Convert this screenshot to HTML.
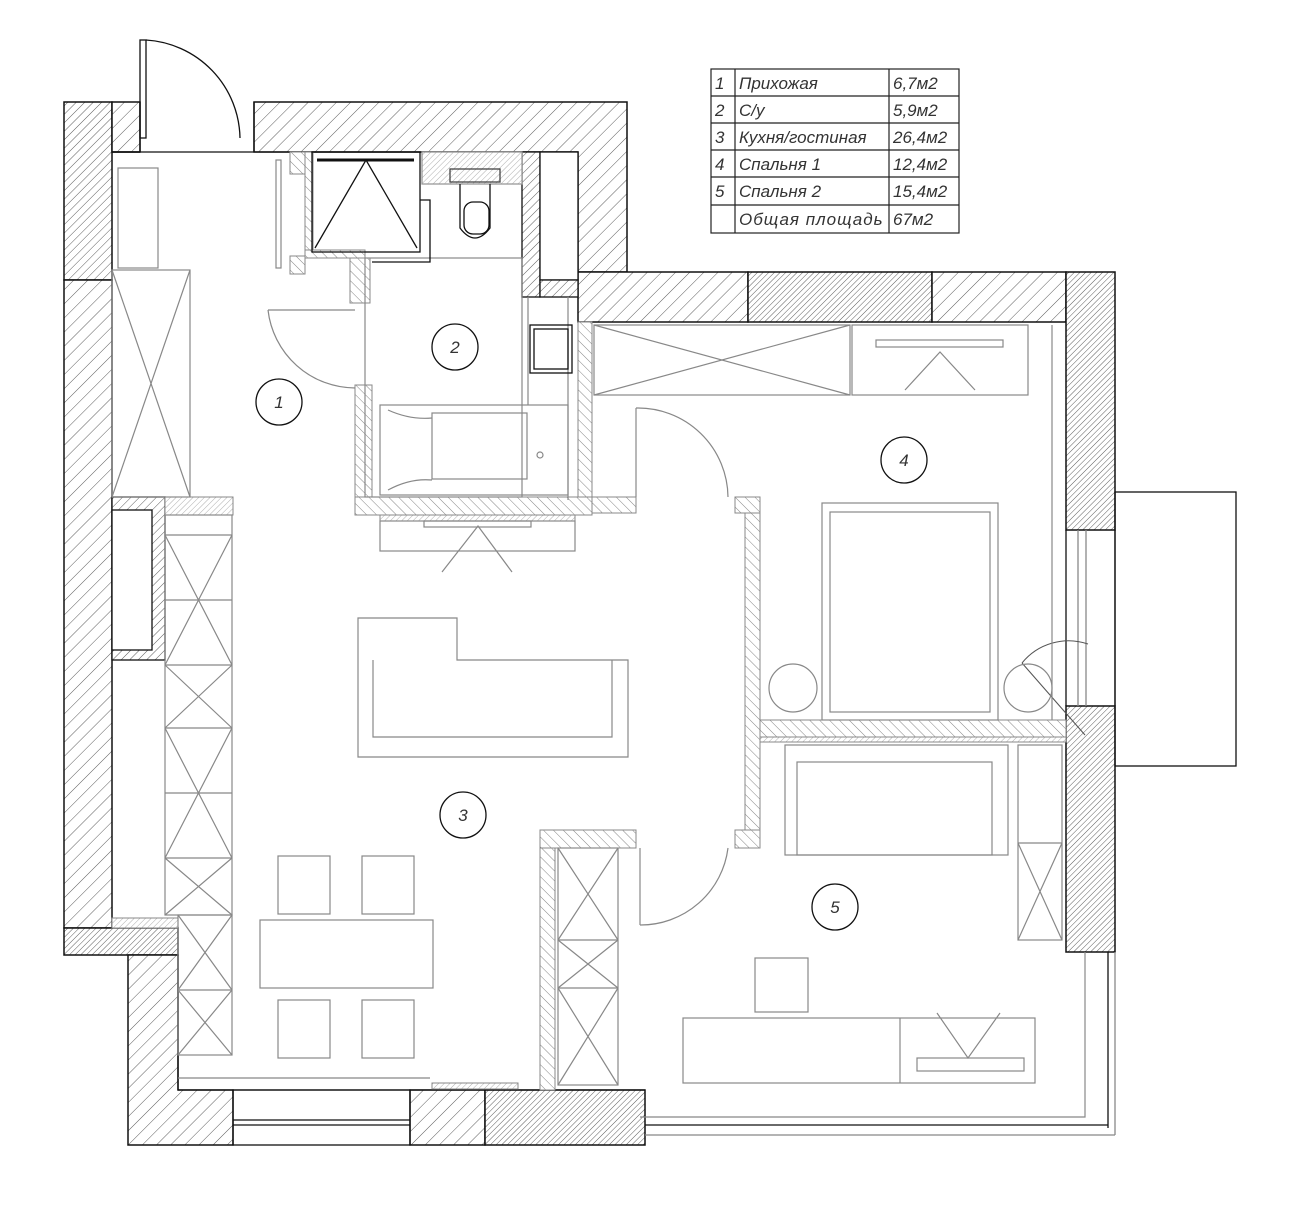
<!DOCTYPE html>
<html><head><meta charset="utf-8"><style>
html,body{margin:0;padding:0;background:#fff}
svg{display:block}
text{font-family:"Liberation Sans","DejaVu Sans",sans-serif;font-style:italic;fill:#333}
</style></head><body>
<svg width="1291" height="1219" viewBox="0 0 1291 1219" xmlns="http://www.w3.org/2000/svg">
<defs>
<pattern id="h" width="10" height="10" patternUnits="userSpaceOnUse" patternTransform="rotate(45)"><rect width="10" height="10" fill="#fff"/><line x1="0" y1="0" x2="0" y2="10" stroke="#333" stroke-width="0.8"/></pattern>
<pattern id="hd" width="4" height="4" patternUnits="userSpaceOnUse" patternTransform="rotate(45)"><rect width="4" height="4" fill="#fff"/><line x1="0" y1="0" x2="0" y2="4" stroke="#333" stroke-width="0.8"/></pattern>
<pattern id="hm" width="6" height="6" patternUnits="userSpaceOnUse" patternTransform="rotate(45)"><rect width="6" height="6" fill="#fff"/><line x1="0" y1="0" x2="0" y2="6" stroke="#333" stroke-width="0.8"/></pattern>
<pattern id="hp" width="7" height="7" patternUnits="userSpaceOnUse" patternTransform="rotate(-45)"><rect width="7" height="7" fill="#fff"/><line x1="0" y1="0" x2="0" y2="7" stroke="#777" stroke-width="0.9"/></pattern>
<pattern id="hs" width="4" height="4" patternUnits="userSpaceOnUse" patternTransform="rotate(45)"><rect width="4" height="4" fill="#fff"/><line x1="0" y1="0" x2="0" y2="4" stroke="#999" stroke-width="0.8"/></pattern>
</defs>

<g stroke="#222" stroke-width="1.2" fill="none">
<rect x="711" y="69" width="248" height="164"/>
<line x1="711" y1="96" x2="959" y2="96"/><line x1="711" y1="123" x2="959" y2="123"/>
<line x1="711" y1="150" x2="959" y2="150"/><line x1="711" y1="177" x2="959" y2="177"/>
<line x1="711" y1="205" x2="959" y2="205"/>
<line x1="735" y1="69" x2="735" y2="233"/><line x1="889" y1="69" x2="889" y2="233"/>
</g>
<g font-size="17">
<text x="715" y="89">1</text><text x="739" y="89">Прихожая</text><text x="893" y="89">6,7м2</text>
<text x="715" y="116">2</text><text x="739" y="116">С/у</text><text x="893" y="116">5,9м2</text>
<text x="715" y="143">3</text><text x="739" y="143">Кухня/гостиная</text><text x="893" y="143">26,4м2</text>
<text x="715" y="170">4</text><text x="739" y="170">Спальня 1</text><text x="893" y="170">12,4м2</text>
<text x="715" y="197">5</text><text x="739" y="197">Спальня 2</text><text x="893" y="197">15,4м2</text>
<text x="739" y="225" letter-spacing="1">Общая  площадь</text><text x="893" y="225">67м2</text>
</g>

<g stroke="#111" stroke-width="1.5">
<rect x="64" y="102" width="48" height="178" fill="url(#hm)"/>
<rect x="64" y="280" width="48" height="648" fill="url(#h)"/>
<rect x="112" y="102" width="28" height="50" fill="url(#h)"/>
<polygon points="254,102 627,102 627,272 578,272 578,152 254,152" fill="url(#h)"/>
<rect x="578" y="272" width="170" height="50" fill="url(#h)"/>
<rect x="748" y="272" width="184" height="50" fill="url(#hd)"/>
<rect x="932" y="272" width="134" height="50" fill="url(#h)"/>
<rect x="1066" y="272" width="49" height="258" fill="url(#hd)"/>
<rect x="1066" y="706" width="49" height="246" fill="url(#hd)"/>
<rect x="64" y="928" width="114" height="27" fill="url(#hd)"/>
<polygon points="128,955 178,955 178,1090 233,1090 233,1145 128,1145" fill="url(#h)"/>
<rect x="410" y="1090" width="75" height="55" fill="url(#h)"/>
<rect x="485" y="1090" width="160" height="55" fill="url(#hd)"/>
<line x1="112" y1="152" x2="140" y2="152"/>
</g>
<g stroke="#111" stroke-width="1.3" fill="none">
<line x1="140" y1="102" x2="140" y2="152"/><line x1="254" y1="102" x2="254" y2="152"/>
<line x1="112" y1="152" x2="578" y2="152"/>
<rect x="140" y="40" width="6" height="98"/>
<path d="M146,40 A100,100 0 0 1 240,138"/>
<rect x="233" y="1090" width="177" height="55"/>
<line x1="233" y1="1120" x2="410" y2="1120"/><line x1="233" y1="1125" x2="410" y2="1125"/>
<line x1="1066" y1="530" x2="1066" y2="706"/><line x1="1115" y1="530" x2="1115" y2="706"/>
<line x1="1078" y1="530" x2="1078" y2="706" stroke="#888"/><line x1="1086" y1="530" x2="1086" y2="706" stroke="#888"/>
<rect x="1115" y="492" width="121" height="274"/>
<line x1="1108" y1="952" x2="1108" y2="1128"/><line x1="1115" y1="952" x2="1115" y2="1135" stroke="#888"/>
<line x1="645" y1="1125" x2="1108" y2="1125"/><line x1="645" y1="1135" x2="1115" y2="1135" stroke="#888"/>
<line x1="178" y1="955" x2="178" y2="1090"/>
<line x1="178" y1="1090" x2="645" y2="1090"/>
</g>
<g stroke="#555" fill="none" stroke-width="1">
<path d="M1088,644 A60,60 0 0 0 1022,663"/>
<line x1="1022" y1="663" x2="1085" y2="735"/>
</g>

<g stroke="#111" stroke-width="1.3">
<rect x="522" y="152" width="18" height="145" fill="url(#hm)"/>
<rect x="540" y="152" width="38" height="128" fill="#fff"/>
<rect x="540" y="280" width="38" height="17" fill="url(#hm)"/>
<rect x="422" y="152" width="100" height="32" fill="url(#hs)" stroke="#999"/>
<rect x="112" y="497" width="53" height="163" fill="url(#hm)"/>
<rect x="112" y="510" width="40" height="140" fill="#fff"/>
</g>

<g stroke="#888" stroke-width="1" fill="url(#hp)">
<rect x="290" y="152" width="15" height="22"/>
<rect x="290" y="256" width="15" height="18"/>
<rect x="305" y="152" width="8" height="105"/>
<rect x="305" y="250" width="60" height="8"/>
<rect x="350" y="258" width="20" height="45"/>
<rect x="355" y="385" width="17" height="130"/>
<rect x="355" y="497" width="237" height="18"/>
<rect x="578" y="322" width="14" height="175"/>
<rect x="592" y="497" width="44" height="16"/>
<rect x="735" y="497" width="25" height="16"/>
<rect x="745" y="513" width="15" height="327"/>
<rect x="760" y="720" width="306" height="17"/>
<rect x="540" y="830" width="96" height="18"/>
<rect x="735" y="830" width="25" height="18"/>
<rect x="540" y="848" width="15" height="242"/>
<rect x="112" y="918" width="66" height="10" fill="url(#hs)"/>
<rect x="165" y="497" width="68" height="18" fill="url(#hs)"/>
<rect x="380" y="515" width="195" height="6" fill="url(#hs)"/>
<rect x="432" y="1083" width="86" height="6" fill="url(#hs)"/>
<rect x="760" y="737" width="306" height="5" fill="url(#hs)"/>
</g>

<g stroke="#888" stroke-width="1.2" fill="none">
<rect x="118" y="168" width="40" height="100"/>
<rect x="112" y="270" width="78" height="227"/>
<line x1="112" y1="270" x2="190" y2="497"/><line x1="190" y1="270" x2="112" y2="497"/>
<rect x="276" y="160" width="5" height="108"/>
<path d="M268,310 L355,310 M268,310 A88,88 0 0 0 355,388"/>
<rect x="165" y="515" width="67" height="400"/>
<line x1="165" y1="535" x2="232" y2="535"/>
<line x1="165" y1="600" x2="232" y2="600"/><line x1="165" y1="665" x2="232" y2="665"/>
<line x1="165" y1="728" x2="232" y2="728"/><line x1="165" y1="793" x2="232" y2="793"/>
<line x1="165" y1="858" x2="232" y2="858"/>
<path d="M165,535 L232,665 M232,535 L165,665 M165,665 L232,728 M232,665 L165,728 M165,728 L232,858 M232,728 L165,858 M165,858 L232,915 M232,858 L165,915"/>
<rect x="178" y="915" width="54" height="140"/>
<line x1="178" y1="990" x2="232" y2="990"/>
<path d="M178,915 L232,990 M232,915 L178,990 M178,990 L232,1055 M232,990 L178,1055"/>
<line x1="178" y1="1078" x2="430" y2="1078"/>
<polygon points="358,618 457,618 457,660 628,660 628,757 358,757"/>
<polyline points="373,660 373,737 612,737 612,660"/>
<rect x="380" y="521" width="195" height="30"/>
<rect x="424" y="521" width="107" height="6"/>
<path d="M442,572 L478,526 L512,572"/>
<rect x="260" y="920" width="173" height="68"/>
<rect x="278" y="856" width="52" height="58"/><rect x="362" y="856" width="52" height="58"/>
<rect x="278" y="1000" width="52" height="58"/><rect x="362" y="1000" width="52" height="58"/>
<rect x="365" y="258" width="157" height="239"/>
<rect x="380" y="405" width="188" height="90"/>
<rect x="432" y="413" width="95" height="66"/>
<path d="M388,410 Q410,420 432,418 M388,490 Q410,478 432,480"/>
<circle cx="540" cy="455" r="3"/>
<line x1="528" y1="297" x2="528" y2="405"/>
<line x1="568" y1="297" x2="568" y2="500"/>
<rect x="594" y="325" width="256" height="70"/>
<line x1="594" y1="325" x2="850" y2="395"/><line x1="594" y1="395" x2="850" y2="325"/>
<rect x="852" y="325" width="176" height="70"/>
<rect x="876" y="340" width="127" height="7"/>
<path d="M905,390 L940,352 L975,390"/>
<rect x="822" y="503" width="176" height="217"/>
<rect x="830" y="512" width="160" height="200"/>
<circle cx="793" cy="688" r="24"/><circle cx="1028" cy="688" r="24"/>
<line x1="1052" y1="325" x2="1052" y2="720"/>
<path d="M636,408 L636,497 M636,408 A90,90 0 0 1 728,497"/>
<rect x="785" y="745" width="223" height="110"/>
<rect x="797" y="762" width="195" height="93"/>
<rect x="1018" y="745" width="44" height="195"/>
<line x1="1018" y1="843" x2="1062" y2="843"/>
<path d="M1018,843 L1062,940 M1062,843 L1018,940"/>
<rect x="558" y="848" width="60" height="237"/>
<line x1="558" y1="940" x2="618" y2="940"/><line x1="558" y1="988" x2="618" y2="988"/>
<path d="M558,848 L618,940 M618,848 L558,940 M558,940 L618,988 M618,940 L558,988 M558,988 L618,1085 M618,988 L558,1085"/>
<path d="M640,848 L640,925 M640,925 A88,88 0 0 0 728,848"/>
<rect x="755" y="958" width="53" height="54"/>
<rect x="683" y="1018" width="352" height="65"/>
<line x1="900" y1="1018" x2="900" y2="1083"/>
<rect x="917" y="1058" width="107" height="13"/>
<path d="M937,1013 L968,1058 L1000,1013"/>
<polyline points="1085,952 1085,1117 640,1117"/>
</g>

<g stroke="#111" stroke-width="1.3" fill="none">
<rect x="312" y="152" width="108" height="100"/>
<line x1="317" y1="160" x2="414" y2="160" stroke-width="3"/>
<path d="M315,248 L366,160 L417,248"/>
<polyline points="420,200 430,200 430,262 372,262"/>
<rect x="450" y="169" width="50" height="13" stroke="#444"/>
<path d="M460,184 L460,228 Q475,248 490,228 L490,184"/>
<rect x="464" y="202" width="25" height="32" rx="9"/>
<rect x="530" y="325" width="42" height="48"/>
<rect x="534" y="329" width="34" height="40"/>
</g>

<g stroke="#111" stroke-width="1.3" fill="#fff">
<circle cx="279" cy="402" r="23"/><circle cx="455" cy="347" r="23"/>
<circle cx="463" cy="815" r="23"/><circle cx="904" cy="460" r="23"/>
<circle cx="835" cy="907" r="23"/>
</g>
<g font-size="17" text-anchor="middle">
<text x="279" y="408">1</text><text x="455" y="353">2</text><text x="463" y="821">3</text>
<text x="904" y="466">4</text><text x="835" y="913">5</text>
</g>
</svg>
</body></html>
